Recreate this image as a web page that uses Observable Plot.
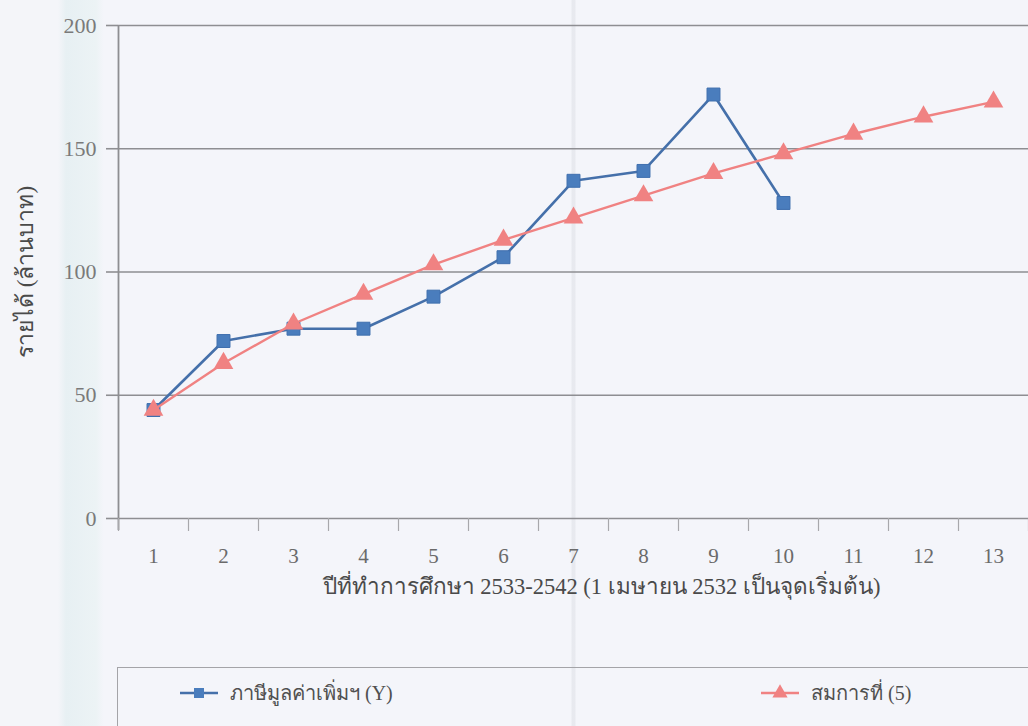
<!DOCTYPE html>
<html>
<head>
<meta charset="utf-8">
<script src="https://cdn.jsdelivr.net/npm/d3@7"></script>
<script src="https://cdn.jsdelivr.net/npm/@observablehq/plot@0.6"></script>
<style>
  html, body { margin: 0; padding: 0; }
  body {
    width: 1028px; height: 726px; overflow: hidden; position: relative;
    font-family: "Liberation Serif", "Noto Sans", serif;
    background:
      linear-gradient(to right,
        rgba(0,0,0,0) 0px, rgba(0,0,0,0) 571px,
        rgba(150,155,165,0.13) 572px, rgba(150,155,165,0.13) 575px,
        rgba(0,0,0,0) 576px),
      linear-gradient(to right,
        #f4f5f9 0px, #f4f5f9 58px, #e7f0f3 66px, #ecf3f5 96px, #f4f5fa 104px, #f4f5fa 100%);
  }
  #chart { position: absolute; left: 0; top: 0; }
  #legend {
    position: absolute; left: 117px; top: 667px; width: 920px; height: 90px;
    border: 1.5px solid #a4a4a8; box-sizing: border-box;
  }
  .item { position: absolute; top: 9px; display: flex; align-items: center;
    font-size: 20px; color: #505050; }
  .item svg { margin-right: 12px; }
</style>
</head>
<body>
<div id="chart"></div>
<div id="legend"></div>
<script>
// Study year index (1 = fiscal year starting 1 April 2532)
const years = [1, 2, 3, 4, 5, 6, 7, 8, 9, 10, 11, 12, 13];
// Actual VAT revenue (million baht), years 1–10
const vatActual = [44, 72, 77, 77, 90, 106, 137, 141, 172, 128];
// Fitted values from equation (5), years 1–13
const equation5 = [44, 63, 79, 91, 103, 113, 122, 131, 140, 148, 156, 163, 169];
const yTicks = [0, 50, 100, 150, 200];
const seriesNames = ["ภาษีมูลค่าเพิ่มฯ (Y)", "สมการที่ (5)"];
const xTitle = "ปีที่ทำการศึกษา 2533-2542 (1 เมษายน 2532 เป็นจุดเริ่มต้น)";
const yTitle = "รายได้ (ล้านบาท)";

const blue = "#4a7dbd", blueLine = "#4570aa";
const red = "#f08282";

const actualRows = vatActual.map((v, i) => ({year: years[i], value: v}));
const fittedRows = equation5.map((v, i) => ({year: years[i], value: v}));
const boundaries = d3.range(0.5, 14, 1);

const chart = Plot.plot({
  width: 1028,
  height: 650,
  marginLeft: 118,
  marginRight: 0,
  marginTop: 25,
  marginBottom: 132,
  x: {type: "linear", domain: [0.5, 13.5]},
  y: {domain: [0, 200]},
  style: {background: "transparent", fontFamily: "'Liberation Serif', serif", fontSize: "20px", color: "#505050", overflow: "visible"},
  marks: [
    Plot.gridY(yTicks, {stroke: "#8e8e92", strokeOpacity: 1, strokeWidth: 1.6}),
    Plot.axisY(yTicks, {
      tickSize: 12, tickPadding: 10, stroke: "#8e8e92", strokeWidth: 1.6,
      fontSize: 22, fill: "#7a7a7a", label: null
    }),
    // y-axis title on its own, larger than the tick labels
    Plot.axisY([], {
      tickSize: 0, fontSize: 23, fill: "#4a4a4a",
      label: yTitle, labelAnchor: "center", labelOffset: 102, labelArrow: "none"
    }),
    Plot.ruleX([0.5], {y1: 200, y2: 0, stroke: "#8e8e92", strokeWidth: 1.8, insetBottom: -12}),
    Plot.axisX(boundaries, {tickSize: 13, stroke: "#a8a8ac", strokeWidth: 1.2, tickFormat: () => "", label: null}),
    Plot.axisX(years, {
      tickSize: 0, tickPadding: 30, fontSize: 21, fill: "#6a6a6a", label: null
    }),
    // x-axis title below the year numbers, a little right of centre
    Plot.text([xTitle], {
      frameAnchor: "bottom", lineAnchor: "middle", dy: 68, dx: 28,
      fontSize: 22.5, fill: "#4a4a4a"
    }),
    Plot.line(actualRows, {x: "year", y: "value", stroke: blueLine, strokeWidth: 2.6}),
    Plot.dot(actualRows, {x: "year", y: "value", symbol: "square", r: 7.3, fill: blue, stroke: "#3f6fae", strokeWidth: 1}),
    Plot.line(fittedRows, {x: "year", y: "value", stroke: red, strokeWidth: 2.4}),
    Plot.dot(fittedRows, {x: "year", y: "value", symbol: "triangle", r: 7.3, fill: red})
  ]
});
document.getElementById("chart").appendChild(chart);

// Legend entries: line with marker, followed by the series name
const legend = d3.select("#legend");
const entries = [
  {name: seriesNames[0], color: blueLine, fill: blue, symbol: d3.symbolSquare, left: 62},
  {name: seriesNames[1], color: red, fill: red, symbol: d3.symbolTriangle, left: 643}
];
for (const e of entries) {
  const item = legend.append("div").attr("class", "item").style("left", e.left + "px");
  const svg = item.append("svg").attr("width", 38).attr("height", 24);
  svg.append("line").attr("x1", 0).attr("x2", 38).attr("y1", 12).attr("y2", 12)
    .attr("stroke", e.color).attr("stroke-width", 2.5);
  svg.append("path").attr("transform", "translate(19,12)")
    .attr("d", d3.symbol(e.symbol, 100)()).attr("fill", e.fill);
  item.append("span").text(e.name);
}
</script>
</body>
</html>
